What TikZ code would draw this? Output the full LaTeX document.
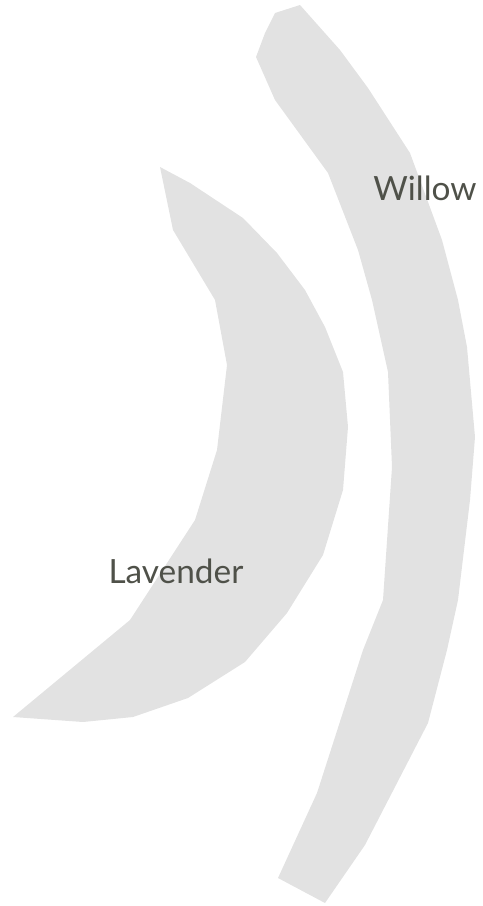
\documentclass[tikz,border=0pt]{standalone}
\usepackage{fontspec}
\setmainfont{Lato}
\usetikzlibrary{positioning}
\definecolor{bandgray}{HTML}{E2E2E2}
\definecolor{labelgray}{HTML}{4F5149}
\tikzset{band/.style={fill=bandgray,draw=none},
  bandlabel/.style={font=\fontsize{19}{22}\selectfont,text=labelgray,inner sep=0pt}}
\begin{document}
\begin{tikzpicture}[x=0.02cm,y=-0.02cm]
\useasboundingbox (0,0) rectangle (483,906);
\fill[band] (300,5) -- (340,50) -- (368,88) -- (410,153) -- (442,240) -- (458,300) -- (467,347) -- (475,437) -- (470,500) -- (458,600) -- (447,650) -- (428,723) -- (365,845) -- (325,903) -- (278,878) -- (317,793) -- (363,650) -- (383,600) -- (392,467) -- (388,372) -- (372,300) -- (358,250) -- (328,173) -- (275,100) -- (256,57) -- (265,33) -- (275,13) -- cycle;
\fill[band] (160,167) -- (190,183) -- (243,218) -- (277,253) -- (305,290) -- (325,327) -- (343,372) -- (348,427) -- (343,490) -- (323,555) -- (287,613) -- (245,662) -- (188,698) -- (133,717) -- (83,722) -- (13,717) -- (130,620) -- (195,520) -- (217,450) -- (227,365) -- (215,300) -- (173,230) -- cycle;
\node[bandlabel] (willow) at (425,188) {Willow};
\node[bandlabel] (lavender) at (176,571) {Lavender};
\end{tikzpicture}
\end{document}
